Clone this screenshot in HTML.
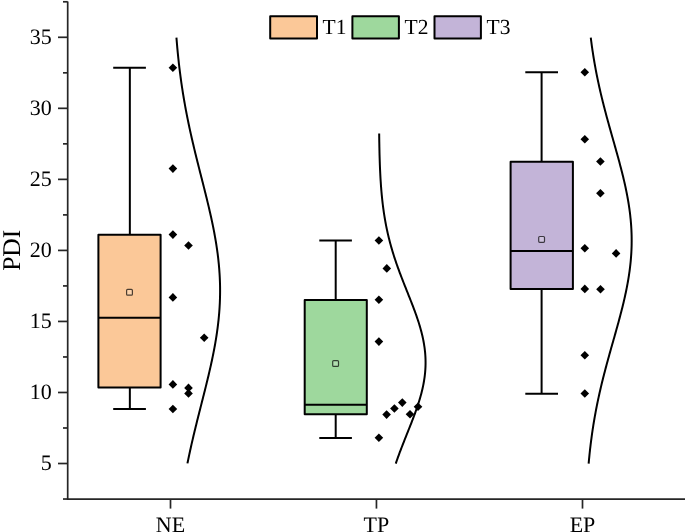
<!DOCTYPE html>
<html><head><meta charset="utf-8"><style>
html,body{margin:0;padding:0;background:#fff;}
body{width:685px;height:532px;overflow:hidden;font-family:"Liberation Serif",serif;}
svg{display:block;will-change:transform;} .t{font-family:"Liberation Serif",serif;text-rendering:geometricPrecision;}
</style></head><body>
<svg width="685" height="532" viewBox="0 0 685 532">
<rect width="685" height="532" fill="#fff"/>
<g stroke="#000" stroke-width="2.0" fill="none">
<line x1="129.85" y1="67.80" x2="129.85" y2="234.80"/>
<line x1="129.85" y1="387.50" x2="129.85" y2="408.90"/>
<line x1="113.20" y1="67.80" x2="145.90" y2="67.80"/>
<line x1="113.20" y1="408.90" x2="145.90" y2="408.90"/>
<rect x="98.40" y="234.80" width="62.20" height="152.70" fill="#FBC898" stroke-linejoin="round"/>
<line x1="98.40" y1="317.80" x2="160.60" y2="317.80"/>
</g>
<rect x="126.60" y="289.40" width="5.8" height="5.8" fill="#fff" fill-opacity="0.2" stroke="#000" stroke-opacity="0.7" stroke-width="1.2" rx="1"/>
<g stroke="#000" stroke-width="2.0" fill="none">
<line x1="335.70" y1="240.60" x2="335.70" y2="300.00"/>
<line x1="335.70" y1="414.30" x2="335.70" y2="437.90"/>
<line x1="319.30" y1="240.60" x2="351.90" y2="240.60"/>
<line x1="319.30" y1="437.90" x2="351.90" y2="437.90"/>
<rect x="304.70" y="300.00" width="62.10" height="114.30" fill="#9ED89D" stroke-linejoin="round"/>
<line x1="304.70" y1="404.80" x2="366.80" y2="404.80"/>
</g>
<rect x="332.70" y="360.60" width="5.8" height="5.8" fill="#fff" fill-opacity="0.2" stroke="#000" stroke-opacity="0.7" stroke-width="1.2" rx="1"/>
<g stroke="#000" stroke-width="2.0" fill="none">
<line x1="541.60" y1="72.30" x2="541.60" y2="161.80"/>
<line x1="541.60" y1="289.10" x2="541.60" y2="393.70"/>
<line x1="525.30" y1="72.30" x2="558.00" y2="72.30"/>
<line x1="525.30" y1="393.70" x2="558.00" y2="393.70"/>
<rect x="510.60" y="161.80" width="62.30" height="127.30" fill="#C3B4D8" stroke-linejoin="round"/>
<line x1="510.60" y1="251.00" x2="572.90" y2="251.00"/>
</g>
<rect x="538.70" y="236.50" width="5.8" height="5.8" fill="#fff" fill-opacity="0.2" stroke="#000" stroke-opacity="0.7" stroke-width="1.2" rx="1"/>
<path d="M172.90 63.50L177.20 67.80L172.90 72.10L168.60 67.80Z" fill="#000"/>
<path d="M172.90 164.30L177.20 168.60L172.90 172.90L168.60 168.60Z" fill="#000"/>
<path d="M172.90 230.30L177.20 234.60L172.90 238.90L168.60 234.60Z" fill="#000"/>
<path d="M188.50 241.20L192.80 245.50L188.50 249.80L184.20 245.50Z" fill="#000"/>
<path d="M172.90 293.10L177.20 297.40L172.90 301.70L168.60 297.40Z" fill="#000"/>
<path d="M204.20 333.50L208.50 337.80L204.20 342.10L199.90 337.80Z" fill="#000"/>
<path d="M172.90 380.10L177.20 384.40L172.90 388.70L168.60 384.40Z" fill="#000"/>
<path d="M188.50 383.60L192.80 387.90L188.50 392.20L184.20 387.90Z" fill="#000"/>
<path d="M188.50 389.10L192.80 393.40L188.50 397.70L184.20 393.40Z" fill="#000"/>
<path d="M172.90 404.70L177.20 409.00L172.90 413.30L168.60 409.00Z" fill="#000"/>
<path d="M378.90 236.20L383.20 240.50L378.90 244.80L374.60 240.50Z" fill="#000"/>
<path d="M386.80 264.10L391.10 268.40L386.80 272.70L382.50 268.40Z" fill="#000"/>
<path d="M378.90 295.40L383.20 299.70L378.90 304.00L374.60 299.70Z" fill="#000"/>
<path d="M378.90 337.30L383.20 341.60L378.90 345.90L374.60 341.60Z" fill="#000"/>
<path d="M386.60 410.30L390.90 414.60L386.60 418.90L382.30 414.60Z" fill="#000"/>
<path d="M394.40 404.20L398.70 408.50L394.40 412.80L390.10 408.50Z" fill="#000"/>
<path d="M402.30 398.30L406.60 402.60L402.30 406.90L398.00 402.60Z" fill="#000"/>
<path d="M410.00 410.00L414.30 414.30L410.00 418.60L405.70 414.30Z" fill="#000"/>
<path d="M418.00 402.40L422.30 406.70L418.00 411.00L413.70 406.70Z" fill="#000"/>
<path d="M378.90 433.50L383.20 437.80L378.90 442.10L374.60 437.80Z" fill="#000"/>
<path d="M584.80 68.00L589.10 72.30L584.80 76.60L580.50 72.30Z" fill="#000"/>
<path d="M584.80 134.90L589.10 139.20L584.80 143.50L580.50 139.20Z" fill="#000"/>
<path d="M600.40 157.20L604.70 161.50L600.40 165.80L596.10 161.50Z" fill="#000"/>
<path d="M600.40 188.90L604.70 193.20L600.40 197.50L596.10 193.20Z" fill="#000"/>
<path d="M584.80 243.90L589.10 248.20L584.80 252.50L580.50 248.20Z" fill="#000"/>
<path d="M616.10 249.10L620.40 253.40L616.10 257.70L611.80 253.40Z" fill="#000"/>
<path d="M584.80 284.60L589.10 288.90L584.80 293.20L580.50 288.90Z" fill="#000"/>
<path d="M600.50 284.90L604.80 289.20L600.50 293.50L596.20 289.20Z" fill="#000"/>
<path d="M584.80 350.90L589.10 355.20L584.80 359.50L580.50 355.20Z" fill="#000"/>
<path d="M584.80 389.20L589.10 393.50L584.80 397.80L580.50 393.50Z" fill="#000"/>
<path d="M176.44 37.60 L176.61 39.74 L176.79 41.88 L176.97 44.02 L177.15 46.16 L177.35 48.30 L177.54 50.44 L177.75 52.58 L177.96 54.72 L178.18 56.86 L178.40 59.00 L178.64 61.14 L178.87 63.28 L179.12 65.42 L179.37 67.56 L179.63 69.70 L179.90 71.84 L180.17 73.97 L180.45 76.11 L180.74 78.25 L181.03 80.39 L181.33 82.53 L181.64 84.67 L181.96 86.81 L182.29 88.95 L182.62 91.09 L182.96 93.23 L183.31 95.37 L183.66 97.51 L184.02 99.65 L184.39 101.79 L184.77 103.93 L185.16 106.07 L185.55 108.21 L185.95 110.35 L186.36 112.49 L186.77 114.63 L187.19 116.77 L187.62 118.91 L188.06 121.05 L188.50 123.19 L188.95 125.33 L189.40 127.47 L189.87 129.61 L190.33 131.75 L190.81 133.89 L191.29 136.03 L191.78 138.17 L192.27 140.31 L192.76 142.45 L193.27 144.58 L193.77 146.72 L194.28 148.86 L194.80 151.00 L195.32 153.14 L195.84 155.28 L196.37 157.42 L196.90 159.56 L197.43 161.70 L197.97 163.84 L198.51 165.98 L199.05 168.12 L199.59 170.26 L200.13 172.40 L200.68 174.54 L201.22 176.68 L201.77 178.82 L202.31 180.96 L202.85 183.10 L203.40 185.24 L203.94 187.38 L204.48 189.52 L205.01 191.66 L205.55 193.80 L206.08 195.94 L206.60 198.08 L207.13 200.22 L207.64 202.36 L208.16 204.50 L208.67 206.64 L209.17 208.78 L209.66 210.92 L210.15 213.06 L210.64 215.19 L211.11 217.33 L211.58 219.47 L212.04 221.61 L212.49 223.75 L212.93 225.89 L213.36 228.03 L213.78 230.17 L214.19 232.31 L214.59 234.45 L214.97 236.59 L215.35 238.73 L215.71 240.87 L216.07 243.01 L216.40 245.15 L216.73 247.29 L217.04 249.43 L217.34 251.57 L217.63 253.71 L217.90 255.85 L218.15 257.99 L218.39 260.13 L218.62 262.27 L218.83 264.41 L219.02 266.55 L219.20 268.69 L219.36 270.83 L219.51 272.97 L219.64 275.11 L219.76 277.25 L219.85 279.39 L219.93 281.53 L220.00 283.67 L220.05 285.81 L220.08 287.94 L220.09 290.08 L220.09 292.22 L220.07 294.36 L220.03 296.50 L219.97 298.64 L219.90 300.78 L219.82 302.92 L219.71 305.06 L219.59 307.20 L219.45 309.34 L219.30 311.48 L219.13 313.62 L218.94 315.76 L218.74 317.90 L218.53 320.04 L218.29 322.18 L218.05 324.32 L217.79 326.46 L217.51 328.60 L217.22 330.74 L216.92 332.88 L216.60 335.02 L216.27 337.16 L215.92 339.30 L215.57 341.44 L215.20 343.58 L214.82 345.72 L214.42 347.86 L214.02 350.00 L213.60 352.14 L213.18 354.28 L212.75 356.42 L212.30 358.55 L211.85 360.69 L211.39 362.83 L210.92 364.97 L210.44 367.11 L209.95 369.25 L209.46 371.39 L208.96 373.53 L208.46 375.67 L207.95 377.81 L207.43 379.95 L206.91 382.09 L206.39 384.23 L205.86 386.37 L205.33 388.51 L204.79 390.65 L204.25 392.79 L203.71 394.93 L203.17 397.07 L202.63 399.21 L202.09 401.35 L201.54 403.49 L201.00 405.63 L200.45 407.77 L199.91 409.91 L199.37 412.05 L198.83 414.19 L198.29 416.33 L197.75 418.47 L197.21 420.61 L196.68 422.75 L196.15 424.89 L195.63 427.03 L195.10 429.16 L194.59 431.30 L194.07 433.44 L193.56 435.58 L193.06 437.72 L192.56 439.86 L192.06 442.00 L191.57 444.14 L191.09 446.28 L190.61 448.42 L190.14 450.56 L189.67 452.70 L189.21 454.84 L188.76 456.98 L188.32 459.12 L187.88 461.26 L187.44 463.40" fill="none" stroke="#000" stroke-width="2"/>
<path d="M379.17 133.40 L379.19 135.06 L379.21 136.72 L379.23 138.38 L379.25 140.04 L379.28 141.70 L379.31 143.36 L379.34 145.02 L379.37 146.67 L379.40 148.33 L379.44 149.99 L379.47 151.65 L379.51 153.31 L379.55 154.97 L379.60 156.63 L379.65 158.29 L379.70 159.95 L379.75 161.61 L379.81 163.27 L379.87 164.93 L379.93 166.59 L380.00 168.25 L380.07 169.90 L380.15 171.56 L380.23 173.22 L380.31 174.88 L380.40 176.54 L380.49 178.20 L380.59 179.86 L380.70 181.52 L380.81 183.18 L380.92 184.84 L381.04 186.50 L381.17 188.16 L381.30 189.82 L381.44 191.48 L381.59 193.13 L381.74 194.79 L381.90 196.45 L382.07 198.11 L382.24 199.77 L382.42 201.43 L382.61 203.09 L382.81 204.75 L383.02 206.41 L383.24 208.07 L383.46 209.73 L383.70 211.39 L383.94 213.05 L384.19 214.71 L384.46 216.36 L384.73 218.02 L385.01 219.68 L385.31 221.34 L385.61 223.00 L385.92 224.66 L386.25 226.32 L386.59 227.98 L386.93 229.64 L387.29 231.30 L387.66 232.96 L388.04 234.62 L388.43 236.28 L388.84 237.94 L389.25 239.59 L389.68 241.25 L390.11 242.91 L390.56 244.57 L391.02 246.23 L391.49 247.89 L391.98 249.55 L392.47 251.21 L392.98 252.87 L393.49 254.53 L394.02 256.19 L394.55 257.85 L395.10 259.51 L395.66 261.17 L396.22 262.83 L396.80 264.48 L397.39 266.14 L397.98 267.80 L398.58 269.46 L399.19 271.12 L399.81 272.78 L400.43 274.44 L401.06 276.10 L401.70 277.76 L402.34 279.42 L402.99 281.08 L403.64 282.74 L404.29 284.40 L404.95 286.06 L405.61 287.71 L406.27 289.37 L406.93 291.03 L407.60 292.69 L408.26 294.35 L408.92 296.01 L409.58 297.67 L410.24 299.33 L410.89 300.99 L411.54 302.65 L412.18 304.31 L412.82 305.97 L413.45 307.63 L414.08 309.29 L414.69 310.94 L415.30 312.60 L415.89 314.26 L416.48 315.92 L417.05 317.58 L417.61 319.24 L418.16 320.90 L418.70 322.56 L419.22 324.22 L419.72 325.88 L420.20 327.54 L420.67 329.20 L421.13 330.86 L421.56 332.52 L421.97 334.17 L422.37 335.83 L422.74 337.49 L423.09 339.15 L423.42 340.81 L423.73 342.47 L424.02 344.13 L424.28 345.79 L424.52 347.45 L424.74 349.11 L424.93 350.77 L425.10 352.43 L425.24 354.09 L425.36 355.75 L425.45 357.41 L425.51 359.06 L425.55 360.72 L425.57 362.38 L425.56 364.04 L425.52 365.70 L425.46 367.36 L425.37 369.02 L425.26 370.68 L425.13 372.34 L424.96 374.00 L424.78 375.66 L424.56 377.32 L424.33 378.98 L424.07 380.64 L423.79 382.29 L423.48 383.95 L423.16 385.61 L422.81 387.27 L422.44 388.93 L422.05 390.59 L421.64 392.25 L421.21 393.91 L420.76 395.57 L420.29 397.23 L419.81 398.89 L419.31 400.55 L418.79 402.21 L418.26 403.87 L417.72 405.52 L417.16 407.18 L416.59 408.84 L416.00 410.50 L415.41 412.16 L414.81 413.82 L414.19 415.48 L413.57 417.14 L412.94 418.80 L412.30 420.46 L411.66 422.12 L411.01 423.78 L410.36 425.44 L409.70 427.10 L409.04 428.75 L408.38 430.41 L407.72 432.07 L407.06 433.73 L406.39 435.39 L405.73 437.05 L405.07 438.71 L404.41 440.37 L403.76 442.03 L403.11 443.69 L402.46 445.35 L401.82 447.01 L401.18 448.67 L400.55 450.33 L399.92 451.98 L399.30 453.64 L398.69 455.30 L398.09 456.96 L397.49 458.62 L396.91 460.28 L396.33 461.94 L395.76 463.60" fill="none" stroke="#000" stroke-width="2"/>
<path d="M590.78 37.70 L591.04 39.84 L591.32 41.98 L591.61 44.12 L591.90 46.26 L592.21 48.40 L592.52 50.54 L592.85 52.68 L593.18 54.83 L593.52 56.97 L593.87 59.11 L594.23 61.25 L594.60 63.39 L594.98 65.53 L595.37 67.67 L595.77 69.81 L596.18 71.95 L596.59 74.09 L597.02 76.23 L597.46 78.37 L597.90 80.51 L598.36 82.65 L598.82 84.80 L599.29 86.94 L599.77 89.08 L600.26 91.22 L600.76 93.36 L601.27 95.50 L601.78 97.64 L602.31 99.78 L602.84 101.92 L603.37 104.06 L603.92 106.20 L604.47 108.34 L605.03 110.48 L605.59 112.62 L606.16 114.77 L606.74 116.91 L607.32 119.05 L607.91 121.19 L608.50 123.33 L609.09 125.47 L609.69 127.61 L610.29 129.75 L610.89 131.89 L611.49 134.03 L612.10 136.17 L612.71 138.31 L613.31 140.45 L613.92 142.59 L614.53 144.74 L615.13 146.88 L615.73 149.02 L616.33 151.16 L616.93 153.30 L617.53 155.44 L618.12 157.58 L618.70 159.72 L619.28 161.86 L619.85 164.00 L620.42 166.14 L620.98 168.28 L621.53 170.42 L622.07 172.56 L622.61 174.71 L623.13 176.85 L623.64 178.99 L624.15 181.13 L624.64 183.27 L625.11 185.41 L625.58 187.55 L626.03 189.69 L626.47 191.83 L626.89 193.97 L627.30 196.11 L627.69 198.25 L628.07 200.39 L628.43 202.53 L628.77 204.67 L629.10 206.82 L629.41 208.96 L629.70 211.10 L629.97 213.24 L630.22 215.38 L630.45 217.52 L630.67 219.66 L630.86 221.80 L631.03 223.94 L631.19 226.08 L631.32 228.22 L631.43 230.36 L631.52 232.50 L631.59 234.64 L631.64 236.79 L631.66 238.93 L631.67 241.07 L631.65 243.21 L631.62 245.35 L631.56 247.49 L631.48 249.63 L631.38 251.77 L631.26 253.91 L631.11 256.05 L630.95 258.19 L630.77 260.33 L630.57 262.47 L630.34 264.61 L630.10 266.76 L629.84 268.90 L629.56 271.04 L629.26 273.18 L628.94 275.32 L628.61 277.46 L628.26 279.60 L627.89 281.74 L627.50 283.88 L627.10 286.02 L626.69 288.16 L626.26 290.30 L625.81 292.44 L625.35 294.58 L624.88 296.73 L624.40 298.87 L623.90 301.01 L623.39 303.15 L622.88 305.29 L622.35 307.43 L621.81 309.57 L621.26 311.71 L620.71 313.85 L620.14 315.99 L619.57 318.13 L619.00 320.27 L618.42 322.41 L617.83 324.55 L617.24 326.69 L616.64 328.84 L616.04 330.98 L615.44 333.12 L614.84 335.26 L614.23 337.40 L613.62 339.54 L613.02 341.68 L612.41 343.82 L611.80 345.96 L611.20 348.10 L610.59 350.24 L609.99 352.38 L609.39 354.52 L608.80 356.66 L608.21 358.81 L607.62 360.95 L607.04 363.09 L606.46 365.23 L605.88 367.37 L605.32 369.51 L604.76 371.65 L604.20 373.79 L603.65 375.93 L603.11 378.07 L602.58 380.21 L602.05 382.35 L601.53 384.49 L601.02 386.63 L600.52 388.78 L600.02 390.92 L599.54 393.06 L599.06 395.20 L598.59 397.34 L598.13 399.48 L597.68 401.62 L597.24 403.76 L596.81 405.90 L596.39 408.04 L595.98 410.18 L595.57 412.32 L595.18 414.46 L594.79 416.60 L594.42 418.75 L594.05 420.89 L593.70 423.03 L593.35 425.17 L593.02 427.31 L592.69 429.45 L592.37 431.59 L592.06 433.73 L591.76 435.87 L591.47 438.01 L591.19 440.15 L590.91 442.29 L590.65 444.43 L590.39 446.57 L590.14 448.72 L589.90 450.86 L589.67 453.00 L589.45 455.14 L589.23 457.28 L589.02 459.42 L588.82 461.56 L588.63 463.70" fill="none" stroke="#000" stroke-width="2"/>
<g stroke="#262626" stroke-width="1.7" fill="none">
<line x1="67.7" y1="1.6" x2="67.7" y2="499.90000000000003"/>
<line x1="66.9" y1="499.1" x2="685" y2="499.1"/>
<line x1="58" y1="463.51" x2="67.7" y2="463.51"/>
<line x1="58" y1="392.48" x2="67.7" y2="392.48"/>
<line x1="58" y1="321.44" x2="67.7" y2="321.44"/>
<line x1="58" y1="250.41" x2="67.7" y2="250.41"/>
<line x1="58" y1="179.37" x2="67.7" y2="179.37"/>
<line x1="58" y1="108.33" x2="67.7" y2="108.33"/>
<line x1="58" y1="37.30" x2="67.7" y2="37.30"/>
<line x1="63" y1="499.03" x2="67.7" y2="499.03"/>
<line x1="63" y1="427.99" x2="67.7" y2="427.99"/>
<line x1="63" y1="356.96" x2="67.7" y2="356.96"/>
<line x1="63" y1="285.92" x2="67.7" y2="285.92"/>
<line x1="63" y1="214.89" x2="67.7" y2="214.89"/>
<line x1="63" y1="143.85" x2="67.7" y2="143.85"/>
<line x1="63" y1="72.82" x2="67.7" y2="72.82"/>
<line x1="63" y1="1.78" x2="67.7" y2="1.78"/>
<line x1="170.5" y1="499.1" x2="170.5" y2="508.6"/>
<line x1="376.45" y1="499.1" x2="376.45" y2="508.6"/>
<line x1="582.5" y1="499.1" x2="582.5" y2="508.6"/>
</g>
<g class="t" font-size="22" fill="#000">
<text x="51.8" y="469.91" text-anchor="end">5</text>
<text x="51.8" y="398.88" text-anchor="end">10</text>
<text x="51.8" y="327.84" text-anchor="end">15</text>
<text x="51.8" y="256.81" text-anchor="end">20</text>
<text x="51.8" y="185.77" text-anchor="end">25</text>
<text x="51.8" y="114.73" text-anchor="end">30</text>
<text x="51.8" y="43.70" text-anchor="end">35</text>
<text x="170.5" y="532" text-anchor="middle">NE</text>
<text x="376.45" y="532" text-anchor="middle">TP</text>
<text x="582.5" y="532" text-anchor="middle">EP</text>
</g>
<text transform="translate(19.6,250.3) rotate(-90)" class="t" font-size="25.5" text-anchor="middle">PDI</text>
<rect x="270.20" y="16.3" width="46.80" height="22.3" fill="#FBC898" stroke="#000" stroke-width="2" stroke-linejoin="round"/>
<text x="322.60" y="34.2" class="t" font-size="21.5">T1</text>
<rect x="352.40" y="16.3" width="46.50" height="22.3" fill="#9ED89D" stroke="#000" stroke-width="2" stroke-linejoin="round"/>
<text x="404.50" y="34.2" class="t" font-size="21.5">T2</text>
<rect x="434.50" y="16.3" width="46.40" height="22.3" fill="#C3B4D8" stroke="#000" stroke-width="2" stroke-linejoin="round"/>
<text x="486.50" y="34.2" class="t" font-size="21.5">T3</text>
</svg>
</body></html>
